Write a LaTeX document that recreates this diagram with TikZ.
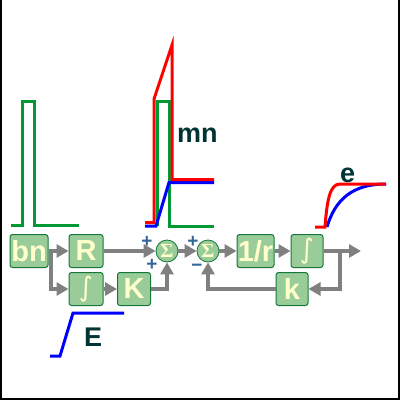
\documentclass[tikz,border=0pt]{standalone}
\usepackage{fontspec}
\setmainfont{Liberation Sans}
\newfontfamily\djfont{DejaVu Sans}
\newfontfamily\serfont{Liberation Serif}
\usetikzlibrary{arrows.meta}
\definecolor{boxfill}{RGB}{153,204,153}
\definecolor{boxedge}{RGB}{20,120,60}
\definecolor{cream}{RGB}{255,255,204}
\definecolor{pgreen}{RGB}{0,153,51}
\definecolor{teal}{RGB}{0,51,51}
\definecolor{arrgray}{RGB}{128,128,128}
\definecolor{signblue}{RGB}{51,102,153}
\tikzset{
  blk/.style={draw=boxedge, line width=1pt, fill=boxfill, rounded corners=2.5pt, minimum height=33pt, inner sep=0pt, text=cream, font=\bfseries\fontsize{29}{29}\selectfont},
  intg/.style={font=\djfont\fontsize{27}{27}\selectfont},
  sumc/.style={circle, draw=boxedge, line width=0.8pt, fill=boxfill, minimum size=22pt, inner sep=0pt, text=cream, font=\serfont\bfseries\fontsize{20}{20}\selectfont},
  arr/.style={draw=arrgray, line width=3.2pt, -{Triangle[length=12pt,width=13pt]}},
  plot/.style={line width=3pt},
  lbl/.style={text=teal, font=\bfseries\fontsize{27}{27}\selectfont, inner sep=0pt},
  sgn/.style={text=signblue, font=\bfseries\fontsize{19}{19}\selectfont, inner sep=0pt}
}
\begin{document}
\begin{tikzpicture}[x=1pt,y=-1pt]
\useasboundingbox (0,0) rectangle (400,400);
\draw[line width=2pt] (1,0) -- (1,399) -- (399,399) -- (399,0);

% left pulse
\draw[plot, pgreen] (11,225) -- (22,225) -- (22,101) -- (34,101) -- (34,225) -- (79,225);

% middle plot
\draw[plot, pgreen] (157,226) -- (157,101) -- (169,101) -- (169,226) -- (214,226);
\draw[plot, blue] (145,226) -- (156,226) -- (169,182.5) -- (214,182.5);
\draw[plot, red] (145,222.5) -- (154,222.5) -- (154,99) -- (172,45) -- (172,179.5) -- (214,179.5);
\node[lbl, anchor=base west] (mn) at (177,142) {mn};

% right plot
\draw[plot, blue] (327,227) .. controls (335,200) and (352,184) .. (386,184);
\draw[plot, red] (315,227) -- (325,227) .. controls (327,200) and (330,184) .. (340,184) -- (386,184);
\node[lbl, anchor=base west] (e) at (340,182) {e};

% E ramp
\draw[plot, blue] (50,356) -- (60,356) -- (73,313) -- (124,313);
\node[lbl, anchor=base west] (E) at (84,346) {E};

% blocks
\node[blk, minimum width=38pt] (bn) at (29,251) {bn};
\node[blk, minimum width=34pt] (R) at (86,251) {R};
\node[blk, intg, minimum width=34pt] (I1) at (86,289) {∫};
\node[blk, minimum width=33pt] (K) at (134,289) {K};
\node[sumc] (S1) at (167,251) {Σ};
\node[sumc] (S2) at (208,251) {Σ};
\node[blk, minimum width=37pt] (RR) at (255.5,251) {1/r};
\node[blk, intg, minimum width=32pt] (I2) at (307,251) {∫};
\node[blk, minimum width=32pt] (k) at (292,289) {k};

\coordinate (b1) at (51,251);
\coordinate (out) at (361,251);
\coordinate (fb) at (340,251);

% connectors
\draw[arr] (bn.east) -- (R.west);
\draw[arr] (b1) |- (I1.west);
\draw[arr] (R.east) -- (S1.west);
\draw[arr] (I1.east) -- (K.west);
\draw[arr] (K.east) -| (S1.south);
\draw[arr] (S1.east) -- (S2.west);
\draw[arr] (S2.east) -- (RR.west);
\draw[arr] (RR.east) -- (I2.west);
\draw[arr] (I2.east) -- (out);
\draw[arr] (fb) |- (k.east);
\draw[arr] (k.west) -| (S2.south);

% signs
\node[sgn] (p1) at (147,242) {+};
\node[sgn] (p2) at (152,265) {+};
\node[sgn] (p3) at (193,242) {+};
\node[sgn] (m1) at (197,268) {−};
\end{tikzpicture}
\end{document}
